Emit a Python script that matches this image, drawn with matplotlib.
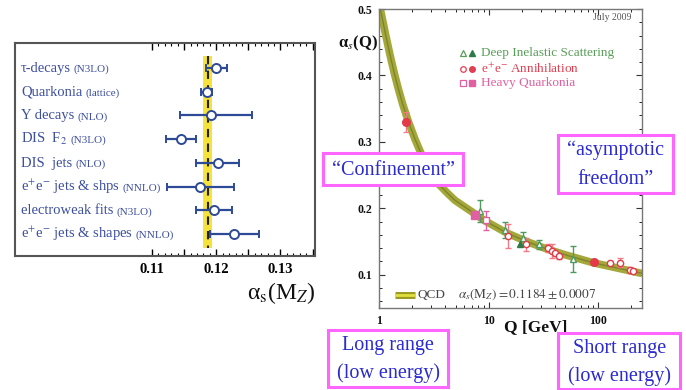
import numpy as np
import matplotlib
matplotlib.use("Agg")
import matplotlib.pyplot as plt
from matplotlib.patches import Rectangle
from matplotlib.ticker import FixedLocator, MultipleLocator, NullFormatter, FuncFormatter, LogLocator
import matplotlib.transforms as mtrans

plt.rcParams['font.family'] = ['Liberation Serif', 'DejaVu Serif']
plt.rcParams['mathtext.fontset'] = 'stix'

# ---------------- data: left panel (world summary of alpha_s(MZ)) ----------------
labels_main = ["τ-decays", "Quarkonia", "Υ decays", "DIS  F$_2$", "DIS  jets",
               "e$^{+}$e$^{-}$ jets & shps", "electroweak fits", "e$^{+}$e$^{-}$ jets & shapes"]
labels_sub = ["(N3LO)", "(lattice)", "(NLO)", "(N3LO)", "(NLO)", "(NNLO)", "(N3LO)", "(NNLO)"]
as_vals = [0.1200, 0.1185, 0.1192, 0.1145, 0.1202, 0.1174, 0.1196, 0.1228]
err_lo = [0.0016, 0.0009, 0.0048, 0.0023, 0.0033, 0.0050, 0.0028, 0.0038]
err_hi = [0.0016, 0.0009, 0.0063, 0.0023, 0.0033, 0.0053, 0.0028, 0.0038]
world_avg = 0.1187
world_err = 0.0007
left_ticks = [0.11, 0.12, 0.13]

# ---------------- data: right panel (running coupling) ----------------
curve_Q = [1.0, 1.04, 1.15, 1.26, 1.38, 1.5, 1.65, 1.85, 2.13, 2.4, 2.72, 3.47, 4.2,
           4.93, 7.0, 9.3, 14.6, 22.2, 33.6, 50, 90, 150, 250]
curve_a = [0.51, 0.496, 0.461, 0.431, 0.403, 0.380, 0.356, 0.331, 0.304, 0.284, 0.265,
           0.237, 0.223, 0.212, 0.195, 0.181, 0.163, 0.150, 0.139, 0.130, 0.118, 0.110, 0.102]

dis_Q = [8.3, 14.0, 20.7, 28.7, 59]
dis_a = [0.196, 0.167, 0.155, 0.146, 0.124]
dis_e = [0.016, 0.012, 0.010, 0.007, 0.020]
dis_fill_Q = [19.3]
dis_fill_a = [0.146]

ee_Q = [14.9, 21.8, 35, 37.6, 40.3, 43.6, 127, 157, 196, 206]
ee_a = [0.158, 0.146, 0.140, 0.136, 0.133, 0.128, 0.117, 0.118, 0.107, 0.105]
ee_e = [0.018, 0.010, 0.006, 0.010, 0.005, 0.004, 0.003, 0.007, 0.004, 0.003]
ee_fill_Q = [1.78, 91.2]
ee_fill_a = [0.330, 0.119]
ee_fill_e = [0.015, 0.002]

hq_Q = [9.45]
hq_a = [0.182]
hq_e = [0.014]
hq_fill_Q = [7.5]
hq_fill_a = [0.190]

right_yticks = [0.1, 0.2, 0.3, 0.4, 0.5]
right_xticks = [1, 10, 100]

W, H = 686, 390
fig = plt.figure(figsize=(W / 100, H / 100), dpi=100)
fig.patch.set_facecolor('white')

def fx(px):
    return px / W

def fy(py):
    return 1 - py / H

# ---------------- left panel ----------------
axL = fig.add_axes([fx(15), fy(256), fx(315) - fx(15), fy(43) - fy(256)])
ypos = np.arange(len(as_vals))
navy = '#2d4a96'
lab_col = '#3d4f9f'

axL.fill_betweenx([-0.49, 7.6], world_avg - world_err, world_avg + world_err,
                  color='#f5e23a', lw=0, zorder=1)
axL.plot([world_avg, world_avg], [-0.49, 7.6], color='#222222', lw=1.5,
         dashes=(4, 3), zorder=2)
axL.errorbar(as_vals, ypos, xerr=[err_lo, err_hi], fmt='o', color=navy,
             mfc='white', mec=navy, ms=6.5, mew=1.4, elinewidth=1.6,
             capsize=3, capthick=1.4, zorder=3)
axL.set_xlim(0.08868, 0.13537)
axL.set_ylim(7.93, -1.056)
axL.set_yticks([])
axL.xaxis.set_major_locator(FixedLocator([0.11, 0.115, 0.12, 0.125, 0.13, 0.135]))
axL.xaxis.set_minor_locator(FixedLocator(np.arange(0.110, 0.1355, 0.001)))
axL.xaxis.set_major_formatter(FuncFormatter(
    lambda v, p: ('%.2f' % v) if any(abs(v - t) < 1e-6 for t in left_ticks) else ''))
axL.tick_params(axis='x', which='major', direction='in', length=5, width=1.0,
                top=True, bottom=True, labelsize=10.5, pad=5)
axL.tick_params(axis='x', which='minor', direction='in', length=2.5, width=0.8,
                top=True, bottom=True)
for lbl in axL.get_xticklabels():
    lbl.set_fontweight('bold')
for s in axL.spines.values():
    s.set_color('#555555')
    s.set_linewidth(1.5)

trans = mtrans.blended_transform_factory(axL.transAxes, axL.transData)
main_texts = []
for i, (m, s) in enumerate(zip(labels_main, labels_sub)):
    t = axL.text(0.02, i + 0.17, m, transform=trans, fontsize=10.5,
                 color=lab_col, va='baseline', ha='left')
    main_texts.append(t)
fig.canvas.draw()
rend = fig.canvas.get_renderer()
for i, (t, s) in enumerate(zip(main_texts, labels_sub)):
    bb = t.get_window_extent(rend)
    xa = axL.transAxes.inverted().transform((bb.x1 + 3, 0))[0]
    axL.text(xa, i + 0.17, s, transform=trans, fontsize=8, color=lab_col,
             va='baseline', ha='left')

fig.text(fx(281), fy(293), r'α$_{\mathrm{s}}$(M$_{Z}$)', fontsize=17,
         ha='center', va='center', color='#111111')

# ---------------- right panel ----------------
axR = fig.add_axes([fx(379), fy(308), fx(642) - fx(379), fy(9) - fy(308)])
axR.set_xscale('log')
axR.set_xlim(1, 250)
axR.set_ylim(0.05, 0.5)

axR.plot(curve_Q, curve_a, color='#a4a83a', lw=5.5, solid_capstyle='butt',
         solid_joinstyle='round', zorder=2)
axR.plot(curve_Q, curve_a, color='#6f7524', lw=1.0, alpha=0.7, zorder=2)

green = '#4f9a5f'
green_dark = '#2f7a45'
red = '#e23a48'
red_err = '#f07a85'
pink = '#e060a0'

axR.errorbar(dis_Q, dis_a, yerr=dis_e, fmt='^', color=green, mfc='white', mec=green,
             ms=4.5, mew=1.0, elinewidth=1.0, capsize=2.5, capthick=0.9, zorder=3)
axR.plot(dis_fill_Q, dis_fill_a, '^', color=green_dark, ms=5, zorder=4)
axR.errorbar(ee_Q, ee_a, yerr=ee_e, fmt='o', color=red_err, mfc='white', mec=red,
             ms=4.5, mew=1.0, elinewidth=1.0, capsize=2.5, capthick=0.9, zorder=3)
axR.errorbar(ee_fill_Q, ee_fill_a, yerr=ee_fill_e, fmt='o', color=red_err, mfc=red,
             mec=red, ms=5.5, elinewidth=1.0, capsize=2.5, capthick=0.9, zorder=4)
axR.errorbar(hq_Q, hq_a, yerr=hq_e, fmt='s', color=pink, mfc='white', mec=pink,
             ms=4.5, mew=1.0, elinewidth=1.0, capsize=2.5, capthick=0.9, zorder=3)
axR.plot(hq_fill_Q, hq_fill_a, 's', color=pink, ms=5.5, zorder=4)

axR.set_yticks(right_yticks)
axR.set_yticklabels(['%.1f' % v for v in right_yticks])
axR.yaxis.set_minor_locator(MultipleLocator(0.02))
axR.set_xticks(right_xticks)
axR.set_xticklabels(['%d' % v for v in right_xticks])
axR.xaxis.set_minor_locator(LogLocator(base=10, subs=np.arange(2, 10)))
axR.xaxis.set_minor_formatter(NullFormatter())
axR.tick_params(which='major', direction='in', length=4, width=0.8, top=True,
                right=True, labelsize=8.5, colors='#333333', pad=5)
axR.tick_params(which='minor', direction='in', length=2, width=0.6, top=True, right=True)
for lbl in axR.get_xticklabels() + axR.get_yticklabels():
    lbl.set_fontweight('bold')
    lbl.set_color('#111111')
for s in axR.spines.values():
    s.set_color('#777777')
    s.set_linewidth(1.0)

# legend (upper)
ta = axR.transAxes
leg_y = [0.853, 0.799, 0.753]
leg_txt = ['Deep Inelastic Scattering', r'e$^{+}$e$^{-}$ Annihilation', 'Heavy Quarkonia']
leg_col = ['#5a9e5a', '#e04050', '#e060a0']
leg_mk = ['^', 'o', 's']
for yy, txt, c, mk in zip(leg_y, leg_txt, leg_col, leg_mk):
    axR.plot([0.319], [yy], mk, transform=ta, mfc='white', mec=c, ms=4, mew=0.9, clip_on=False)
    axR.plot([0.354], [yy], mk, transform=ta, color=c if mk != '^' else green_dark, ms=4, clip_on=False)
    axR.text(0.388, yy, txt, transform=ta, fontsize=9.5, color=c, va='center', ha='left')

axR.text(0.886, 0.973, 'July 2009', transform=ta, fontsize=7, color='#555555',
         ha='center', va='center')

# legend (lower)
axR.plot([0.061, 0.137], [0.0435, 0.0435], transform=ta, color='#9a9a20', lw=5, solid_capstyle='butt')
axR.plot([0.061, 0.137], [0.0435, 0.0435], transform=ta, color='#e0e040', lw=2, solid_capstyle='butt')
axR.text(0.1445, 0.0435, 'QCD', transform=ta, fontsize=9.5, color='#444444', va='center', ha='left')
axR.text(0.30, 0.0435, r'$\alpha_{s}(\mathrm{M}_{Z}) = 0.1184 \pm 0.0007$', transform=ta,
         fontsize=9.5, color='#444444', va='center', ha='left')

fig.text(fx(358), fy(43), r'α$_{s}$(Q)', fontsize=12, fontweight='bold',
         ha='center', va='center', color='#111111')
fig.text(fx(536), fy(327), 'Q [GeV]', fontsize=12.5, fontweight='bold',
         ha='center', va='center', color='#111111')

# ---------------- annotation boxes ----------------
box_col = '#ff66ff'
txt_col = '#2b2bd0'
boxes = [
    (323.3, 153.3, 463.3, 185.0, ['“Confinement”']),
    (558.3, 135.0, 673.3, 192.7, ['“asymptotic', 'freedom”']),
    (328.3, 330.0, 448.3, 386.7, ['Long range', '(low energy)']),
    (558.3, 333.3, 680.0, 389.0, ['Short range', '(low energy)']),
]
for x0, y0, x1, y1, lines in boxes:
    r = Rectangle((fx(x0), fy(y1)), fx(x1) - fx(x0), fy(y0) - fy(y1),
                  transform=fig.transFigure, facecolor='white', edgecolor=box_col,
                  lw=2.2, zorder=10)
    fig.add_artist(r)
    cx = (x0 + x1) / 2
    n = len(lines)
    hgt = y1 - y0
    for k, ln in enumerate(lines):
        cy = y0 + hgt * (k + 0.5) / n + 1
        fig.text(fx(cx), fy(cy), ln, fontsize=14.5, color=txt_col, ha='center',
                 va='center', zorder=11)

fig.savefig('out.png', dpi=100, facecolor='white')
